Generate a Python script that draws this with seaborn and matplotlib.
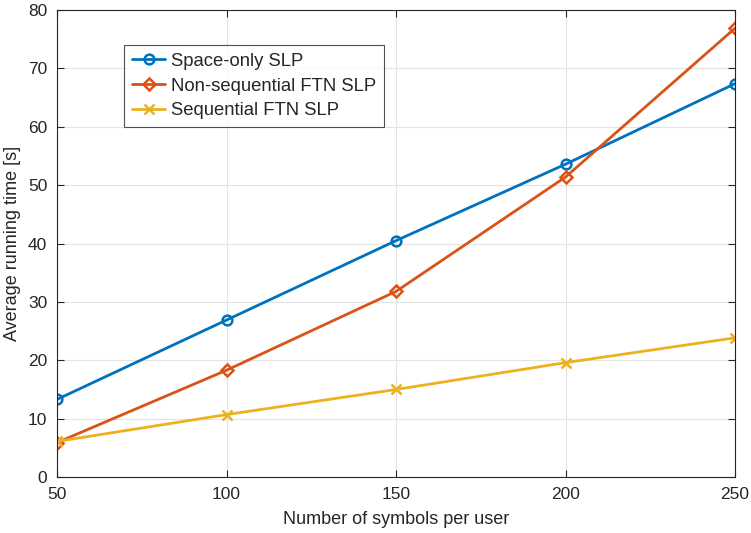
import matplotlib
matplotlib.use("Agg")
import matplotlib.pyplot as plt
import seaborn as sns
import pandas as pd

symbols = [50, 100, 150, 200, 250]
space_only = [13.3, 26.9, 40.5, 53.6, 67.4]
non_sequential = [5.9, 18.3, 31.8, 51.4, 76.9]
sequential = [6.1, 10.7, 15.0, 19.6, 23.85]

series_names = ["Space-only SLP", "Non-sequential FTN SLP", "Sequential FTN SLP"]
series_values = [space_only, non_sequential, sequential]
colors = ["#0072BD", "#D95319", "#EDB120"]
markers = ["o", "D", "x"]
marker_sizes = [7, 6, 6.5]

sns.set_theme(style="white")
plt.rcParams["font.family"] = ["Liberation Sans", "DejaVu Sans"]

rows = []
for name, vals in zip(series_names, series_values):
    for x, y in zip(symbols, vals):
        rows.append({"symbols": x, "time": y, "method": name})
df = pd.DataFrame(rows)

fig = plt.figure(figsize=(7.51, 5.33), dpi=100)
ax = fig.add_axes([0.0759, 0.105, 0.9028, 0.876])

for name, color, marker, ms in zip(series_names, colors, markers, marker_sizes):
    sub = df[df["method"] == name]
    sns.lineplot(data=sub, x="symbols", y="time", ax=ax, color=color,
                 linewidth=2, marker=marker, markersize=ms,
                 markerfacecolor="none", markeredgecolor=color,
                 markeredgewidth=1.8, label=name)

ax.set_xlim(50, 250)
ax.set_ylim(0, 80)
ax.set_xticks(symbols)
ax.set_yticks(range(0, 81, 10))
ax.grid(True, color="#e3e3e3", linewidth=0.8)
ax.set_axisbelow(True)
for s in ax.spines.values():
    s.set_color("#262626")
    s.set_linewidth(0.8)
ax.tick_params(direction="in", length=5, width=0.8, color="#262626",
               labelsize=12.5, labelcolor="#262626", top=True, right=True,
               bottom=True, left=True, pad=7)
ax.set_xlabel("Number of symbols per user", fontsize=13, color="#262626", labelpad=7)
ax.set_ylabel("Average running time [s]", fontsize=13, color="#262626", labelpad=5)

leg = ax.legend(loc="upper left", bbox_to_anchor=(0.099, 0.925), borderaxespad=0,
                fontsize=13.3, frameon=True, fancybox=False, handlelength=1.8,
                handletextpad=0.3, borderpad=0.42, labelspacing=0.42)
leg.get_frame().set_edgecolor("#262626")
leg.get_frame().set_linewidth(0.8)

fig.savefig("out.png", dpi=100)
